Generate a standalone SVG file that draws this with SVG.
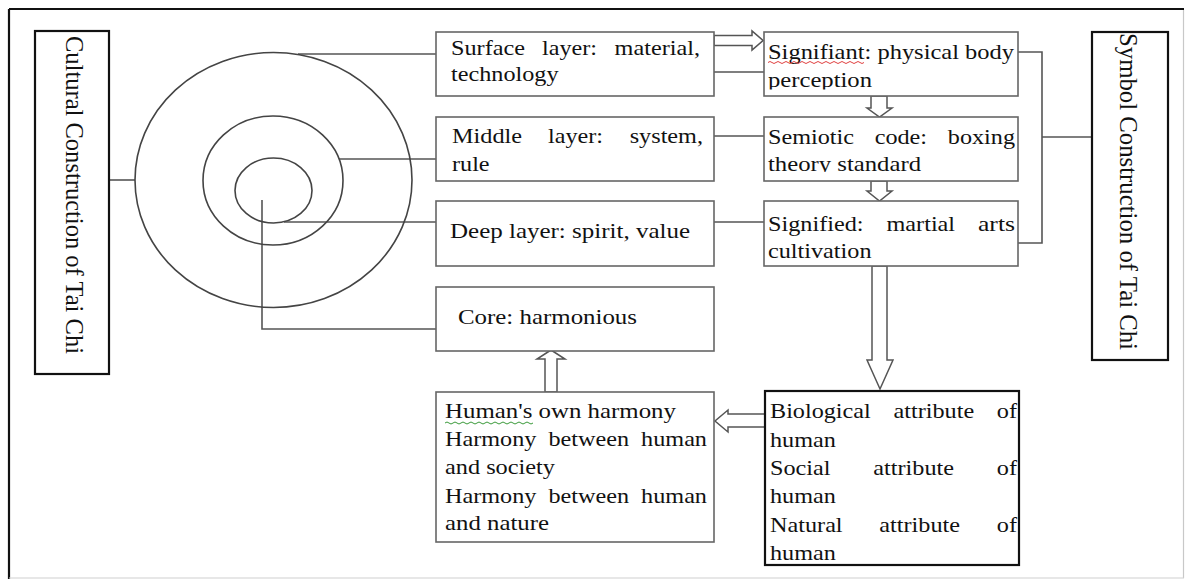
<svg xmlns="http://www.w3.org/2000/svg" width="1186" height="580" viewBox="0 0 1186 580">
  <style>
    .box { fill: #fff; stroke: #666; stroke-width: 1.6; }
    .bbox { fill: #fff; stroke: #111; stroke-width: 2.2; }
    .ln { fill: none; stroke: #555; stroke-width: 1.6; }
    .ring { fill: none; stroke: #444; stroke-width: 1.6; }
    .arw { fill: #fff; stroke: #555; stroke-width: 1.5; stroke-linejoin: miter; }
    .t { font-family: "Liberation Serif", "Times New Roman", serif; font-size: 22px; fill: #111; }
    .vt { font-family: "Liberation Serif", "Times New Roman", serif; font-size: 25px; fill: #111; }
    .wavy-r { fill: none; stroke: #e04040; stroke-width: 1; }
    .wavy-g { fill: none; stroke: #3a9a3a; stroke-width: 1; }
  </style>
  <defs>
    <clipPath id="clipPerception"><rect x="764" y="60" width="254" height="29.5"/></clipPath>
    <clipPath id="clipTheory"><rect x="764" y="146" width="254" height="26"/></clipPath>
  </defs>

  <rect x="0" y="0" width="1186" height="580" fill="#fff"/>

  <!-- page frame -->
  <g id="frame">
    <line x1="9" y1="9" x2="1184" y2="9" stroke="#111" stroke-width="2.2"/>
    <line x1="9" y1="9" x2="9" y2="579" stroke="#111" stroke-width="2.2"/>
    <line x1="1183.5" y1="10" x2="1183.5" y2="578" stroke="#c8c8c8" stroke-width="1.2"/>
    <line x1="9" y1="578" x2="1184" y2="578" stroke="#d0d0d0" stroke-width="1.2"/>
  </g>

  <!-- connectors -->
  <g id="connectors">
    <line class="ln" x1="109" y1="180" x2="135" y2="180"/>
    <line class="ln" x1="298" y1="54" x2="436" y2="54"/>
    <line class="ln" x1="339" y1="159" x2="436" y2="159"/>
    <line class="ln" x1="284" y1="222" x2="436" y2="222"/>
    <polyline class="ln" points="262,200 262,329 436,329"/>
    <line class="ln" x1="714" y1="72" x2="764" y2="72"/>
    <line class="ln" x1="714" y1="136" x2="764" y2="136"/>
    <line class="ln" x1="714" y1="222" x2="764" y2="222"/>
    <polyline class="ln" points="1018,52 1042,52 1042,243 1018,243"/>
    <line class="ln" x1="1042" y1="137" x2="1092" y2="137"/>
    <!-- hollow block arrows -->
    <polygon class="arw" points="714,35.5 752,35.5 752,31 763,40.5 752,50 752,45.5 714,45.5"/>
    <polygon class="arw" points="871,96 871,108 867,108 879.5,117 892,108 887,108 887,96"/>
    <polygon class="arw" points="871,181 871,191 867,191 879.5,201 892,191 887,191 887,181"/>
    <polygon class="arw" points="872,266 872,360 867,360 880,389 893,360 887,360 887,266"/>
    <polygon class="arw" points="765,414 728,414 728,410 715,421 728,432 728,427 765,427"/>
    <polygon class="arw" points="545,392 545,359 537,359 551,350 565,359 557,359 557,392"/>
  </g>

  <!-- concentric culture layers -->
  <g id="layers">
    <ellipse class="ring" cx="273.5" cy="180" rx="138.5" ry="127.5"/>
    <ellipse class="ring" cx="273" cy="180.5" rx="70" ry="64.5"/>
    <ellipse class="ring" cx="273.5" cy="190.5" rx="38.5" ry="32.5"/>
  </g>

  <g id="cultural">
    <rect class="bbox" x="35" y="31" width="74" height="343"/>
    <text class="vt" transform="translate(66,36) rotate(90)" textLength="318" lengthAdjust="spacingAndGlyphs">Cultural Construction of Tai Chi</text>
  </g>

  <g id="symbol">
    <rect class="bbox" x="1092" y="32" width="76" height="328"/>
    <text class="vt" transform="translate(1120,33) rotate(90)" textLength="317" lengthAdjust="spacingAndGlyphs">Symbol Construction of Tai Chi</text>
  </g>

  <g id="surface">
    <rect class="box" x="436" y="32" width="278" height="64"/>
    <text class="t" x="451" y="55" textLength="74" lengthAdjust="spacingAndGlyphs">Surface</text>
    <text class="t" x="542" y="55" textLength="55" lengthAdjust="spacingAndGlyphs">layer:</text>
    <text class="t" x="614.6" y="55" textLength="85.4" lengthAdjust="spacingAndGlyphs">material,</text>
    <text class="t" x="451" y="81" textLength="107.5" lengthAdjust="spacingAndGlyphs">technology</text>
  </g>

  <g id="middle">
    <rect class="box" x="436" y="117" width="278" height="64"/>
    <text class="t" x="452" y="143" textLength="70" lengthAdjust="spacingAndGlyphs">Middle</text>
    <text class="t" x="548" y="143" textLength="55" lengthAdjust="spacingAndGlyphs">layer:</text>
    <text class="t" x="629.7" y="143" textLength="73.3" lengthAdjust="spacingAndGlyphs">system,</text>
    <text class="t" x="452" y="171" textLength="37.6" lengthAdjust="spacingAndGlyphs">rule</text>
  </g>

  <g id="deep">
    <rect class="box" x="436" y="201" width="278" height="65"/>
    <text class="t" x="450" y="238" textLength="240" lengthAdjust="spacingAndGlyphs">Deep layer: spirit, value</text>
  </g>

  <g id="core">
    <rect class="box" x="436" y="287" width="278" height="64"/>
    <text class="t" x="458" y="324" textLength="179" lengthAdjust="spacingAndGlyphs">Core: harmonious</text>
  </g>

  <g id="harmony">
    <rect class="box" x="436" y="392" width="278" height="150"/>
    <text class="t" x="445" y="418" textLength="231" lengthAdjust="spacingAndGlyphs">Human's own harmony</text>
    <path class="wavy-g" d="M445,423 q2,-2 4,0 t4,0 t4,0 t4,0 t4,0 t4,0 t4,0 t4,0 t4,0 t4,0 t4,0 t4,0 t4,0 t4,0 t4,0 t4,0 t4,0 t4,0 t4,0 t4,0 t4,0 t4,0"/>
    <text class="t" x="445" y="446" textLength="91.4" lengthAdjust="spacingAndGlyphs">Harmony</text>
    <text class="t" x="548.4" y="446" textLength="80.6" lengthAdjust="spacingAndGlyphs">between</text>
    <text class="t" x="641.1" y="446" textLength="65.9" lengthAdjust="spacingAndGlyphs">human</text>
    <text class="t" x="445" y="474" textLength="110" lengthAdjust="spacingAndGlyphs">and society</text>
    <text class="t" x="445" y="503" textLength="91.4" lengthAdjust="spacingAndGlyphs">Harmony</text>
    <text class="t" x="548.4" y="503" textLength="80.6" lengthAdjust="spacingAndGlyphs">between</text>
    <text class="t" x="641.1" y="503" textLength="65.9" lengthAdjust="spacingAndGlyphs">human</text>
    <text class="t" x="445" y="530" textLength="104" lengthAdjust="spacingAndGlyphs">and nature</text>
  </g>

  <g id="signifiant">
    <rect class="box" x="764" y="32" width="254" height="64"/>
    <text class="t" x="768" y="59" textLength="246" lengthAdjust="spacingAndGlyphs">Signifiant: physical body</text>
    <path class="wavy-r" d="M768,62.5 q2,-2 4,0 t4,0 t4,0 t4,0 t4,0 t4,0 t4,0 t4,0 t4,0 t4,0 t4,0 t4,0 t4,0 t4,0 t4,0 t4,0 t4,0 t4,0 t4,0 t4,0 t4,0 t4,0 t4,0 t4,0"/>
    <text class="t" x="768" y="87" textLength="104" lengthAdjust="spacingAndGlyphs" clip-path="url(#clipPerception)">perception</text>
  </g>

  <g id="semiotic">
    <rect class="box" x="764" y="117" width="254" height="64"/>
    <text class="t" x="768" y="144" textLength="86" lengthAdjust="spacingAndGlyphs">Semiotic</text>
    <text class="t" x="874.7" y="144" textLength="52.4" lengthAdjust="spacingAndGlyphs">code:</text>
    <text class="t" x="947.8" y="144" textLength="67.2" lengthAdjust="spacingAndGlyphs">boxing</text>
    <text class="t" x="768" y="171" textLength="153" lengthAdjust="spacingAndGlyphs" clip-path="url(#clipTheory)">theory standard</text>
  </g>

  <g id="signified">
    <rect class="box" x="764" y="201" width="254" height="65"/>
    <text class="t" x="768" y="231" textLength="95.5" lengthAdjust="spacingAndGlyphs">Signified:</text>
    <text class="t" x="886.5" y="231" textLength="68.6" lengthAdjust="spacingAndGlyphs">martial</text>
    <text class="t" x="978" y="231" textLength="37" lengthAdjust="spacingAndGlyphs">arts</text>
    <text class="t" x="768" y="258" textLength="103.5" lengthAdjust="spacingAndGlyphs">cultivation</text>
  </g>

  <g id="attributes">
    <rect class="bbox" x="765" y="391" width="254" height="174"/>
    <text class="t" x="770" y="418" textLength="100.8" lengthAdjust="spacingAndGlyphs">Biological</text>
    <text class="t" x="893.5" y="418" textLength="80.7" lengthAdjust="spacingAndGlyphs">attribute</text>
    <text class="t" x="996.8" y="418" textLength="20.2" lengthAdjust="spacingAndGlyphs">of</text>
    <text class="t" x="770" y="447" textLength="65.9" lengthAdjust="spacingAndGlyphs">human</text>
    <text class="t" x="770" y="475" textLength="60.5" lengthAdjust="spacingAndGlyphs">Social</text>
    <text class="t" x="873.3" y="475" textLength="80.7" lengthAdjust="spacingAndGlyphs">attribute</text>
    <text class="t" x="996.8" y="475" textLength="20.2" lengthAdjust="spacingAndGlyphs">of</text>
    <text class="t" x="770" y="503" textLength="65.9" lengthAdjust="spacingAndGlyphs">human</text>
    <text class="t" x="770" y="532" textLength="72.6" lengthAdjust="spacingAndGlyphs">Natural</text>
    <text class="t" x="879.3" y="532" textLength="80.7" lengthAdjust="spacingAndGlyphs">attribute</text>
    <text class="t" x="996.8" y="532" textLength="20.2" lengthAdjust="spacingAndGlyphs">of</text>
    <text class="t" x="770" y="560" textLength="65.9" lengthAdjust="spacingAndGlyphs">human</text>
  </g>
</svg>
